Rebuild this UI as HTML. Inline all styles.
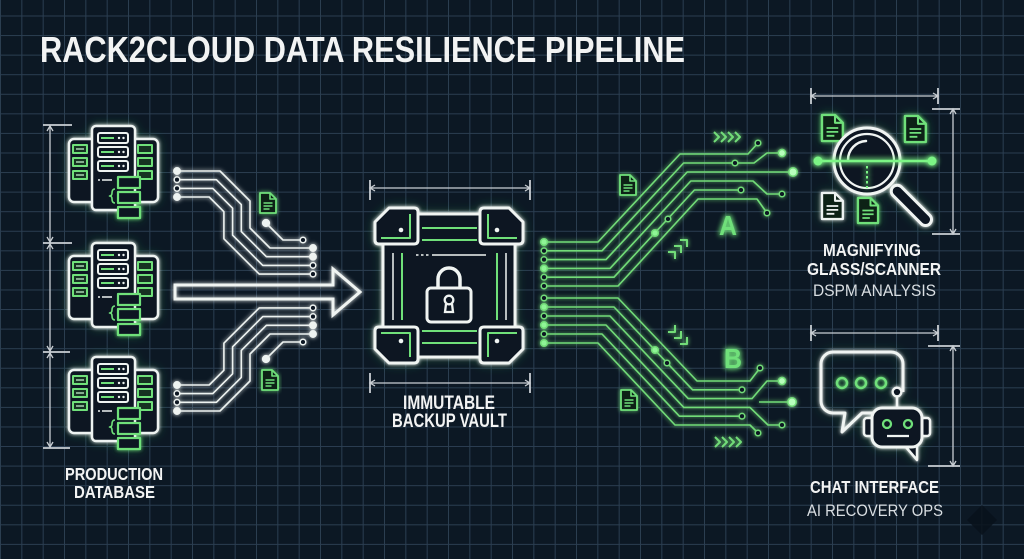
<!DOCTYPE html>
<html><head><meta charset="utf-8">
<style>html,body{margin:0;padding:0;background:#0c1824;}svg{display:block}</style>
</head><body>
<svg width="1024" height="559" viewBox="0 0 1024 559" xmlns="http://www.w3.org/2000/svg" xmlns:xlink="http://www.w3.org/1999/xlink">
<defs>
  <pattern id="grid" x="0" y="15.5" width="21.3333" height="19.57" patternUnits="userSpaceOnUse">
    <path d="M0.5,0 V19.57 M0,0.5 H21.3333" stroke="#2b3e51" stroke-width="1" fill="none"/>
  </pattern>
  <filter id="gw" x="-20%" y="-20%" width="140%" height="140%">
    <feGaussianBlur in="SourceGraphic" stdDeviation="2.2" result="b"/>
    <feMerge><feMergeNode in="b"/><feMergeNode in="SourceGraphic"/></feMerge>
  </filter>
  <filter id="gs" x="-25%" y="-25%" width="150%" height="150%">
    <feGaussianBlur in="SourceAlpha" stdDeviation="5" result="a"/>
    <feFlood flood-color="#3fcf62" flood-opacity="0.35"/>
    <feComposite in2="a" operator="in" result="halo"/>
    <feGaussianBlur in="SourceGraphic" stdDeviation="1.8" result="b"/>
    <feMerge><feMergeNode in="halo"/><feMergeNode in="b"/><feMergeNode in="SourceGraphic"/></feMerge>
  </filter>
  <filter id="gg" x="-20%" y="-20%" width="140%" height="140%">
    <feGaussianBlur in="SourceGraphic" stdDeviation="3" result="b"/>
    <feMerge><feMergeNode in="b"/><feMergeNode in="b"/><feMergeNode in="SourceGraphic"/></feMerge>
  </filter>
  <g id="doc" stroke-linejoin="round">
    <path d="M0,0 H10 L16,6 V20 H0 Z" fill="#0e2119" stroke-width="1.8"/>
    <path d="M10,0 V6 H16" fill="none" stroke-width="1.6"/>
    <path d="M3.5,10 H12.5 M3.5,13 H12.5 M3.5,16 H9.5" fill="none" stroke-width="1.4"/>
  </g>
  <g id="srv" stroke-linejoin="round">
    <rect x="69" y="139" width="89" height="63" rx="5" fill="#0c1824" stroke="#eef3f1" stroke-width="2.5"/>
    <g fill="#123322" stroke="#6fe07a" stroke-width="2">
      <rect x="73" y="145" width="14" height="8"/>
      <rect x="73" y="158" width="14" height="8"/>
      <rect x="73" y="171" width="14" height="8"/>
      <rect x="138" y="145" width="14" height="8"/>
      <rect x="138" y="158" width="14" height="8"/>
      <rect x="138" y="171" width="14" height="8"/>
    </g>
    <path d="M76,149 H84 M76,162 H84 M76,175 H84" stroke="#c9f5cf" stroke-width="1.2"/>
    <rect x="92" y="126" width="43" height="84" rx="4" fill="#0c1824" stroke="#eef3f1" stroke-width="2.5"/>
    <g fill="none" stroke="#eef3f1" stroke-width="2">
      <rect x="98" y="133" width="30" height="10" rx="2"/>
      <rect x="98" y="147" width="30" height="10" rx="2"/>
      <rect x="98" y="161" width="30" height="10" rx="2"/>
    </g>
    <path d="M101,138 H114 M101,152 H114 M101,166 H114" stroke="#6fe07a" stroke-width="2"/>
    <g fill="#eef3f1">
      <circle cx="119" cy="138" r="1.2"/><circle cx="123.5" cy="138" r="1.2"/>
      <circle cx="119" cy="152" r="1.2"/><circle cx="123.5" cy="152" r="1.2"/>
      <circle cx="119" cy="166" r="1.2"/><circle cx="123.5" cy="166" r="1.2"/>
    </g>
    <path d="M98,180 H100 M102,180 H112" stroke="#eef3f1" stroke-width="1.5"/>
    <path d="M115,189 Q112,189 112,193 Q112,196 109.5,196 Q112,196 112,199 Q112,203 115,203" fill="none" stroke="#6fe07a" stroke-width="1.6"/>
    <g fill="#0c1824" stroke="#6fe07a" stroke-width="2.2">
      <rect x="118" y="177" width="22" height="11"/>
      <rect x="118" y="192" width="22" height="11"/>
      <rect x="118" y="207" width="22" height="11"/>
    </g>
  </g>
  <g id="vc" stroke-linejoin="round">
    <path d="M389,208 H414 Q418,208 418,212 V240 Q418,244 414,244 H379 Q375,244 375,240 V222 Z" fill="#0c1824" stroke="#f0f4f2" stroke-width="3"/>
    <path d="M410,214 V238 H381" fill="none" stroke="#6fe07a" stroke-width="2"/>
    <circle cx="401" cy="230" r="2.3" fill="#f0f4f2"/>
  </g>
  <g id="lbundle" fill="none" stroke="#eef3f1" stroke-width="1.6" stroke-linejoin="round">
    <path d="M177,171 H220 L250,201 V228 L270,248 H313"/>
    <path d="M177,179.7 H216.4 L241.3,204.6 V231.6 L266.4,256.7 H313"/>
    <path d="M177,188.4 H212.8 L232.6,208.2 V235.2 L262.8,265.4 H313"/>
    <path d="M177,197 H209.2 L223.9,211.7 V238.8 L259.2,274.1 H313"/>
    <path d="M266,223 L283,240 H303"/>
    <g stroke-width="1.5">
      <circle cx="177" cy="171" r="3.2" fill="#eef3f1"/>
      <circle cx="177" cy="179.7" r="2.8" fill="#0c1824"/>
      <circle cx="177" cy="188.4" r="2.8" fill="#0c1824"/>
      <circle cx="177" cy="197" r="3.2" fill="#eef3f1"/>
      <circle cx="313" cy="248" r="3.2" fill="#eef3f1"/>
      <circle cx="313" cy="256.7" r="3.2" fill="#eef3f1"/>
      <circle cx="313" cy="265.4" r="2.8" fill="#0c1824"/>
      <circle cx="313" cy="274.1" r="2.8" fill="#0c1824"/>
      <circle cx="266" cy="223" r="3.4" fill="#eef3f1"/>
      <circle cx="303" cy="240" r="2.8" fill="#0c1824"/>
    </g>
  </g>
</defs>

<rect width="1024" height="559" fill="#0c1824"/>
<rect width="1024" height="559" fill="url(#grid)"/>

<!-- Title -->
<text x="40" y="62" font-family="Liberation Sans, sans-serif" font-weight="bold" font-size="36" textLength="645" lengthAdjust="spacingAndGlyphs" fill="#f2f3f3">RACK2CLOUD DATA RESILIENCE PIPELINE</text>

<!-- Left dimension lines -->
<g stroke="#c9ced3" stroke-width="1.3" fill="none">
  <path d="M50,125 V243 M50,243 V352 M50,352 V448"/>
  <path d="M43,125 H72 M43,243 H72 M43,352 H70 M43,448 H70" stroke-width="1.8"/>
  <path d="M47,131 L50,126 L53,131 M47,237 L50,242 L53,237 M47,249 L50,244 L53,249 M47,346 L50,351 L53,346 M47,358 L50,353 L53,358 M47,442 L50,447 L53,442"/>
</g>

<!-- Servers -->
<g filter="url(#gs)">
  <use href="#srv"/>
  <use href="#srv" transform="translate(0,117)"/>
  <use href="#srv" transform="translate(0,231)"/>
</g>

<!-- Left circuits -->
<g filter="url(#gw)">
  <use href="#lbundle"/>
  <use href="#lbundle" transform="translate(0,582) scale(1,-1)"/>
</g>
<g filter="url(#gw)" stroke="#6fe07a">
  <use href="#doc" transform="translate(260,193)"/>
  <use href="#doc" transform="translate(262,370)"/>
</g>

<!-- Big arrow -->
<path d="M175,285 H333 V269 L360,292 L333,315 V299 H175 Z" fill="none" stroke="#f0f4f2" stroke-width="3" stroke-linejoin="miter" filter="url(#gw)"/>

<!-- Vault dims -->
<g stroke="#c9ced3" stroke-width="1.3" fill="none">
  <path d="M370,188 H530 M375,185 L370,188 L375,191 M525,185 L530,188 L525,191"/>
  <path d="M370,180 V200 M530,180 V200" stroke-width="1.8"/>
  <path d="M370,383 H530 M375,380 L370,383 L375,386 M525,380 L530,383 L525,386"/>
  <path d="M370,373 V393 M530,373 V393" stroke-width="1.8"/>
</g>

<!-- Vault -->
<g filter="url(#gs)">
  <rect x="383" y="214" width="132" height="143" rx="3" fill="#0c1824" stroke="#f0f4f2" stroke-width="3"/>
  <path d="M422,228 H477 M422,240 H477 M422,331 H477 M422,343 H477" stroke="#6fe07a" stroke-width="2"/>
  <path d="M402,253 V320 M497,253 V320" stroke="#6fe07a" stroke-width="2"/>
  <path d="M393,253 V320 M506,253 V320" stroke="#f0f4f2" stroke-width="1.5"/>
  <path d="M416,255 H418.5 M421,255 H423.5 M426,255 H428.5 M432,255 H486" stroke="#f0f4f2" stroke-width="1.5"/>
  <use href="#vc"/>
  <use href="#vc" transform="translate(898,0) scale(-1,1)"/>
  <use href="#vc" transform="translate(0,571) scale(1,-1)"/>
  <use href="#vc" transform="translate(898,571) scale(-1,-1)"/>
  <path d="M438,288 V279 A11,11 0 0 1 460,279 V288" fill="none" stroke="#f0f4f2" stroke-width="3.5"/>
  <rect x="427" y="288" width="44" height="34" rx="4" fill="#0c1824" stroke="#f0f4f2" stroke-width="3"/>
  <circle cx="449" cy="300" r="4.3" fill="none" stroke="#f0f4f2" stroke-width="2.3"/>
  <path d="M446,304 L445,312 H453 L452,304" fill="none" stroke="#f0f4f2" stroke-width="2.3"/>
</g>

<!-- Right circuits -->
<g filter="url(#gw)" fill="none" stroke="#72dc78" stroke-width="1.6" stroke-linejoin="round">
  <path d="M544,242 H598 L680,154 H748 L758,143"/>
  <path d="M544,250.8 H602 L683.6,163 H754 L767,153 H782"/>
  <path d="M544,259.6 H606 L687.2,172 H793"/>
  <path d="M544,268.4 H610 L690.8,181 H753 L767,194 H782"/>
  <path d="M544,277.2 H614 L694.4,190 H741"/>
  <path d="M544,286 H618 L698,199 H757 L767,213"/>
  <path d="M544,298 H618 L697,381 H750 L760,368"/>
  <path d="M544,307 H614 L692.6,389.8 H742"/>
  <path d="M544,316 H610 L688.2,398.6 H752 L767,381 H782"/>
  <path d="M544,325 H606 L683.8,407.4 H750 L768,425 H782"/>
  <path d="M544,334 H602 L679.4,416.2 H742"/>
  <path d="M544,343 H598 L675,425 H750 L758,433"/>
  <path d="M759,402 H792"/>
  <g stroke-width="1.5">
    <circle cx="544" cy="242" r="3.3" fill="#8ff596"/>
    <circle cx="544" cy="250.8" r="2.8" fill="#0c1824"/>
    <circle cx="544" cy="259.6" r="2.8" fill="#0c1824"/>
    <circle cx="544" cy="268.4" r="3.3" fill="#8ff596"/>
    <circle cx="544" cy="277.2" r="2.8" fill="#0c1824"/>
    <circle cx="544" cy="286" r="2.8" fill="#0c1824"/>
    <circle cx="544" cy="298" r="2.8" fill="#0c1824"/>
    <circle cx="544" cy="307" r="3.3" fill="#8ff596"/>
    <circle cx="544" cy="316" r="2.8" fill="#0c1824"/>
    <circle cx="544" cy="325" r="3.3" fill="#8ff596"/>
    <circle cx="544" cy="334" r="2.8" fill="#0c1824"/>
    <circle cx="544" cy="343" r="3.3" fill="#8ff596"/>
    <circle cx="758" cy="143" r="2.8" fill="#0c1824"/>
    <circle cx="735" cy="163" r="2.8" fill="#0c1824"/>
    <circle cx="782" cy="153" r="3.6" fill="#b8ffbc"/>
    <circle cx="793" cy="172" r="4.2" fill="#b8ffbc"/>
    <circle cx="782" cy="194" r="2.8" fill="#0c1824"/>
    <circle cx="741" cy="190" r="2.8" fill="#0c1824"/>
    <circle cx="767" cy="213" r="2.8" fill="#0c1824"/>
    <circle cx="760" cy="368" r="2.8" fill="#0c1824"/>
    <circle cx="742" cy="389.8" r="2.8" fill="#0c1824"/>
    <circle cx="782" cy="381" r="3.6" fill="#b8ffbc"/>
    <circle cx="792" cy="402" r="4.2" fill="#b8ffbc"/>
    <circle cx="782" cy="425" r="2.8" fill="#0c1824"/>
    <circle cx="742" cy="416.2" r="2.8" fill="#0c1824"/>
    <circle cx="758" cy="433" r="2.8" fill="#0c1824"/>
    <circle cx="668" cy="219" r="2.8" fill="#0c1824"/>
    <circle cx="655" cy="233" r="3.3" fill="#8ff596"/>
    <circle cx="655" cy="350" r="3.3" fill="#8ff596"/>
    <circle cx="667" cy="363" r="2.8" fill="#0c1824"/>
  </g>
  <path d="M714,132 L719,137 L714,142 M721,132 L726,137 L721,142 M728,132 L733,137 L728,142 M735,132 L740,137 L735,142" stroke-width="2"/>
  <path d="M715,437 L720,442 L715,447 M722,437 L727,442 L722,447 M729,437 L734,442 L729,447 M736,437 L741,442 L736,447" stroke-width="2"/>
  <path d="M668,252 H675 V259 M674,246 H681 V253 M680,240 H687 V247" stroke-width="2"/>
  <path d="M675,325 V332 H668 M681,331 V338 H674 M687,337 V344 H680" stroke-width="2"/>
</g>
<g filter="url(#gw)" stroke="#6fe07a">
  <use href="#doc" transform="translate(620,175)"/>
  <use href="#doc" transform="translate(621,390)"/>
</g>
<g filter="url(#gg)" fill="#6fe07a" font-family="Liberation Sans, sans-serif" font-weight="bold" font-size="28">
  <text x="719" y="235" textLength="18" lengthAdjust="spacingAndGlyphs">A</text>
  <text x="724" y="368" textLength="18" lengthAdjust="spacingAndGlyphs">B</text>
</g>

<!-- Right dims -->
<g stroke="#c9ced3" stroke-width="1.3" fill="none">
  <path d="M811,96 H938 M816,93 L811,96 L816,99 M933,93 L938,96 L933,99"/>
  <path d="M811,88 V104 M938,88 V104" stroke-width="1.8"/>
  <path d="M953,109 V234 M950,114 L953,109 L956,114 M950,229 L953,234 L956,229"/>
  <path d="M932,109 H960 M932,234 H960" stroke-width="1.8"/>
  <path d="M811,333 H938 M816,330 L811,333 L816,336 M933,330 L938,333 L933,336"/>
  <path d="M811,325 V341 M938,325 V341" stroke-width="1.8"/>
  <path d="M953,346 V466 M950,351 L953,346 L956,351 M950,461 L953,466 L956,461"/>
  <path d="M928,346 H960 M928,466 H960" stroke-width="1.8"/>
</g>

<!-- Magnifier -->
<g filter="url(#gs)">
  <use href="#doc" transform="translate(822,115) scale(1.3)" stroke="#6fe07a"/>
  <use href="#doc" transform="translate(905,116) scale(1.3)" stroke="#6fe07a"/>
  <use href="#doc" transform="translate(822,193) scale(1.3)" stroke="#eef3f1"/>
  <use href="#doc" transform="translate(858,198) scale(1.25)" stroke="#6fe07a"/>
  <g transform="translate(893,187) rotate(-45)">
    <rect x="-6" y="0" width="12" height="52" rx="6" fill="#0c1824" stroke="#f0f4f2" stroke-width="3"/>
  </g>
  <circle cx="867" cy="161" r="33" fill="#0c1824" stroke="#f0f4f2" stroke-width="3"/>
  <circle cx="867" cy="161" r="27" fill="none" stroke="#f0f4f2" stroke-width="2.2"/>
  <path d="M848,160 A19,19 0 0 1 866,141" fill="none" stroke="#f0f4f2" stroke-width="2.5" stroke-linecap="round"/>
</g>
<g filter="url(#gg)">
  <path d="M818,161 H932" stroke="#7cf585" stroke-width="2.5"/>
  <circle cx="818" cy="161" r="4.5" fill="#7cf585"/>
  <circle cx="932" cy="161" r="4.5" fill="#7cf585"/>
  <path d="M867,166 V188" stroke="#7cf585" stroke-width="2" stroke-dasharray="2.5 2.5"/>
</g>

<!-- Chat -->
<g filter="url(#gs)" stroke-linejoin="round">
  <path d="M875,413 H862 L842,432 L845,413 H833 A12,12 0 0 1 821,401 V364 A12,12 0 0 1 833,352 H891 A12,12 0 0 1 903,364 V392" fill="none" stroke="#f0f4f2" stroke-width="3"/>
  <g fill="none" stroke="#6fe07a" stroke-width="2.5">
    <circle cx="842" cy="383" r="5"/>
    <circle cx="861" cy="383" r="5"/>
    <circle cx="881" cy="383" r="5"/>
  </g>
  <path d="M897,408 V397" stroke="#f0f4f2" stroke-width="2.5"/>
  <circle cx="897" cy="392" r="4.3" fill="#0c1824" stroke="#f0f4f2" stroke-width="2.3"/>
  <rect x="864" y="418" width="9" height="18" rx="3" fill="#0c1824" stroke="#f0f4f2" stroke-width="2.5"/>
  <rect x="921" y="418" width="9" height="18" rx="3" fill="#0c1824" stroke="#f0f4f2" stroke-width="2.5"/>
  <path d="M905,446 L917,460 V446" fill="#0c1824" stroke="#f0f4f2" stroke-width="2.5"/>
  <rect x="872" y="408" width="50" height="39" rx="10" fill="#0c1824" stroke="#f0f4f2" stroke-width="3"/>
  <circle cx="887" cy="424" r="4" fill="none" stroke="#6fe07a" stroke-width="2.3"/>
  <circle cx="908" cy="424" r="4" fill="none" stroke="#6fe07a" stroke-width="2.3"/>
  <path d="M887,436 H909" stroke="#f0f4f2" stroke-width="2.3"/>
</g>

<polygon points="982,505 997,520 982,535 967,520" fill="#08121b" opacity="0.85"/>

<!-- Labels -->
<g font-family="Liberation Sans, sans-serif" fill="#f2f3f3">
  <g font-weight="bold" font-size="17.5">
    <text x="65" y="480" textLength="98" lengthAdjust="spacingAndGlyphs">PRODUCTION</text>
    <text x="74" y="498" textLength="81" lengthAdjust="spacingAndGlyphs">DATABASE</text>
    <text x="403" y="409" font-size="19" textLength="92" lengthAdjust="spacingAndGlyphs">IMMUTABLE</text>
    <text x="392" y="427" font-size="19" textLength="115" lengthAdjust="spacingAndGlyphs">BACKUP VAULT</text>
    <text x="823" y="256" textLength="98" lengthAdjust="spacingAndGlyphs">MAGNIFYING</text>
    <text x="807" y="275" textLength="134" lengthAdjust="spacingAndGlyphs">GLASS/SCANNER</text>
    <text x="810" y="493" textLength="129" lengthAdjust="spacingAndGlyphs">CHAT INTERFACE</text>
  </g>
  <g font-size="17" fill="#d9dee2">
    <text x="813" y="296" textLength="123" lengthAdjust="spacingAndGlyphs">DSPM ANALYSIS</text>
    <text x="807" y="516" textLength="136" lengthAdjust="spacingAndGlyphs">AI RECOVERY OPS</text>
  </g>
</g>
</svg>
</body></html>
